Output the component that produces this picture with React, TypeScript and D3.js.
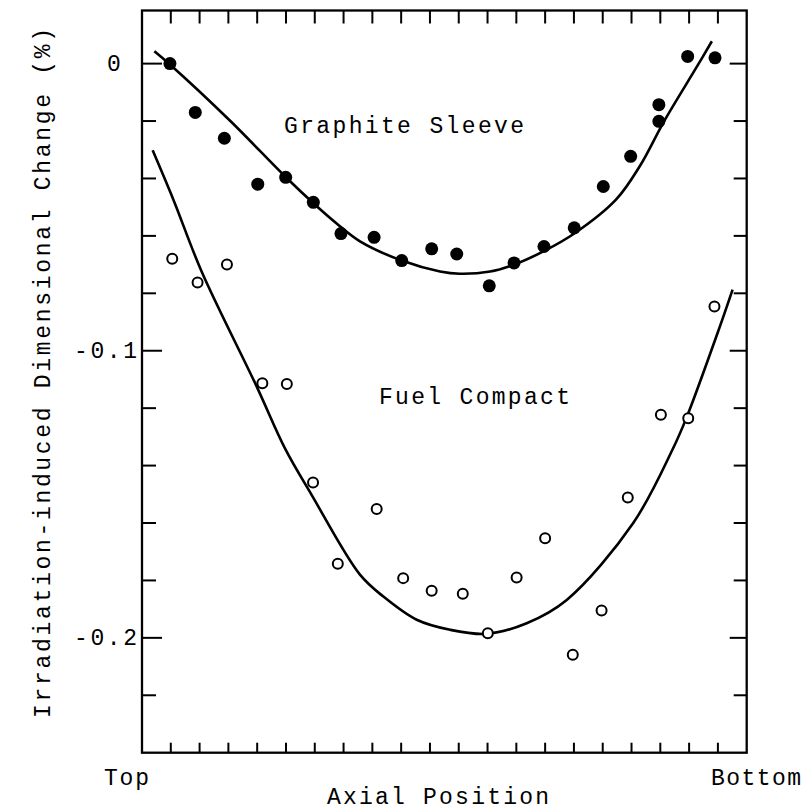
import React from 'react';
import * as d3 from 'd3';

// Axial positions of the tick marks (Top = left, Bottom = right)
const positionTicks = [1, 2, 3, 4, 5, 6, 7, 8, 9, 10, 11, 12, 13, 14, 15, 16, 17, 18, 19, 20];
const changeTicks = [0, -0.02, -0.04, -0.06, -0.08, -0.1, -0.12, -0.14, -0.16, -0.18, -0.2, -0.22];
const majorTicks = [0, -0.1, -0.2];
const majorTickLabels = ['0', '-0.1', '-0.2'];

// Graphite sleeve measurements (filled circles)
const sleeveX = [0.97, 1.85, 2.86, 4.02, 4.99, 5.95, 6.91, 8.06, 9.02, 10.06, 10.93, 12.06, 12.92, 13.96, 15.01, 16.02, 16.97, 17.95, 17.95, 18.95, 19.9];
const sleeveY = [0.0, -0.017, -0.026, -0.042, -0.0396, -0.0483, -0.0592, -0.0605, -0.0686, -0.0645, -0.0663, -0.0774, -0.0694, -0.0637, -0.0572, -0.0428, -0.0323, -0.0201, -0.0143, 0.0025, 0.002];

// Fuel compact measurements (open circles)
const compactX = [1.05, 1.93, 2.95, 4.18, 5.03, 5.94, 6.8, 8.15, 9.07, 10.06, 11.14, 12.01, 13.01, 14.0, 14.96, 15.96, 16.87, 18.02, 18.97, 19.88];
const compactY = [-0.068, -0.0762, -0.07, -0.1113, -0.1116, -0.1459, -0.1742, -0.1551, -0.1792, -0.1836, -0.1846, -0.1984, -0.179, -0.1653, -0.2059, -0.1905, -0.1511, -0.1223, -0.1235, -0.0846];

// Hand-drawn fit curves
const sleeveFitX = [0.43, 0.97, 3.06, 4.97, 6.07, 6.76, 7.57, 9.02, 10.35, 11.04, 12.09, 12.92, 13.94, 15.04, 16.46, 17.3, 18.13, 19.28, 19.79];
const sleeveFitY = [0.0043, -0.0003, -0.0199, -0.0393, -0.0497, -0.0557, -0.0619, -0.0686, -0.0724, -0.0732, -0.0724, -0.07, -0.0654, -0.059, -0.0474, -0.0355, -0.0201, -0.0009, 0.0078];
const compactFitX = [0.37, 1.09, 2.07, 3.98, 4.97, 5.89, 7.57, 8.38, 9.54, 10.7, 11.97, 13.36, 14.75, 17.06, 18.42, 18.91, 20.07, 20.51];
const compactFitY = [-0.0302, -0.0474, -0.0724, -0.1124, -0.1341, -0.1502, -0.178, -0.1856, -0.1937, -0.1972, -0.1986, -0.1949, -0.1868, -0.16, -0.1345, -0.1233, -0.0915, -0.0787];

const FONT = '"Liberation Mono", "DejaVu Sans Mono", monospace';

export default function App() {
  const W = 812, H = 812;
  const x = d3.scaleLinear().domain([0, 21]).range([142, 746.7]);
  const y = d3.scaleLinear().domain([-0.24, 0.0185]).range([752.7, 10.5]);
  const [x0, x1] = x.range();
  const [yb, yt] = y.range();

  const line = d3.line<[number, number]>()
    .x(d => x(d[0]))
    .y(d => y(d[1]))
    .curve(d3.curveCatmullRom.alpha(0.5));

  const sleeveFit = sleeveFitX.map((v, i) => [v, sleeveFitY[i]] as [number, number]);
  const compactFit = compactFitX.map((v, i) => [v, compactFitY[i]] as [number, number]);

  const isMajor = (v: number) => majorTicks.some(m => Math.abs(m - v) < 1e-9);

  return (
    <svg width={W} height={H} style={{ position: 'absolute', left: 0, top: 0, background: '#fff' }}
      fontFamily={FONT}>
      <rect x={0} y={0} width={W} height={H} fill="#fff" />
      {/* frame */}
      <rect x={x0} y={yt} width={x1 - x0} height={yb - yt} fill="none" stroke="#000" strokeWidth={2.3} />
      {/* left and right ticks */}
      {changeTicks.map((t, i) => (
        <g key={'yt' + i} stroke="#000" strokeWidth={2}>
          <line x1={x0} x2={x0 + (isMajor(t) ? 20 : 14)} y1={y(t)} y2={y(t)} />
          <line x1={x1} x2={x1 - (isMajor(t) ? 17 : 13)} y1={y(t)} y2={y(t)} />
        </g>
      ))}
      {/* top and bottom ticks */}
      {positionTicks.map((p, i) => (
        <g key={'xt' + i} stroke="#000" strokeWidth={2}>
          <line x1={x(p)} x2={x(p)} y1={yb} y2={yb - 10} />
          <line x1={x(p)} x2={x(p)} y1={yt} y2={yt + 13} />
        </g>
      ))}
      {/* y tick labels */}
      {majorTicks.map((t, i) => (
        majorTickLabels[i].length > 1 ? (
          <text key={'yl' + i} x={74} y={y(t) + 7} fontSize={23} textLength={63} lengthAdjust="spacing" fill="#000">
            {majorTickLabels[i]}
          </text>
        ) : (
          <text key={'yl' + i} x={107} y={y(t) + 7} fontSize={23} fill="#000">
            {majorTickLabels[i]}
          </text>
        )
      ))}
      {/* fit curves */}
      <path d={line(sleeveFit) || ''} fill="none" stroke="#000" strokeWidth={2.6} />
      <path d={line(compactFit) || ''} fill="none" stroke="#000" strokeWidth={2.6} />
      {/* data */}
      {sleeveX.map((v, i) => (
        <circle key={'s' + i} cx={x(v)} cy={y(sleeveY[i])} r={6.5} fill="#000" />
      ))}
      {compactX.map((v, i) => (
        <circle key={'c' + i} cx={x(v)} cy={y(compactY[i])} r={5} fill="#fff" stroke="#000" strokeWidth={2} />
      ))}
      {/* annotations */}
      <text x={284} y={133} fontSize={23} textLength={240} lengthAdjust="spacing" fill="#000">Graphite Sleeve</text>
      <text x={379} y={404} fontSize={23} textLength={191} lengthAdjust="spacing" fill="#000">Fuel Compact</text>
      {/* axis titles */}
      <text x={104} y={785} fontSize={23} textLength={45} lengthAdjust="spacing" fill="#000">Top</text>
      <text x={711} y={785} fontSize={23} textLength={90} lengthAdjust="spacing" fill="#000">Bottom</text>
      <text x={327} y={804} fontSize={23} textLength={222} lengthAdjust="spacing" fill="#000">Axial Position</text>
      <text transform="translate(50,718) rotate(-90)" x={0} y={0} fontSize={23} textLength={690} lengthAdjust="spacing" fill="#000">
        Irradiation-induced Dimensional Change (%)
      </text>
    </svg>
  );
}
